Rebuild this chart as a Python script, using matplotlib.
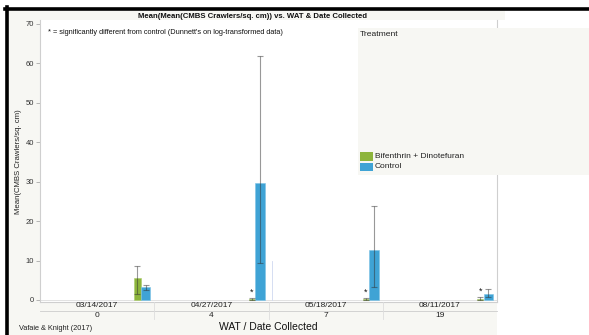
import matplotlib
matplotlib.use("Agg")
import matplotlib.pyplot as plt
from matplotlib.patches import Rectangle
from matplotlib.lines import Line2D

plt.rcParams['font.family'] = ['Liberation Sans', 'DejaVu Sans']

weeks = ['0', '4', '7', '19']
dates = ['03/14/2017', '04/27/2017', '05/18/2017', '08/11/2017']
treatments = ['Bifenthrin + Dinotefuran', 'Control']
bif_mean = [5.6, 0.3, 0.3, 0.3]
bif_lo = [1.5, 0.1, 0.1, 0.1]
bif_hi = [8.6, 0.5, 0.5, 0.8]
ctrl_mean = [3.2, 29.5, 12.7, 1.4]
ctrl_lo = [2.5, 9.4, 3.3, 0.7]
ctrl_hi = [3.9, 61.8, 23.8, 2.7]
significant = [False, True, True, True]
yticks = [0, 10, 20, 30, 40, 50, 60, 70]

GREEN = '#8db53c'
BLUE = '#3fa3d5'
BG = '#f7f7f3'

W, H = 589, 335
fig = plt.figure(figsize=(W / 100, H / 100), dpi=100)
fig.patch.set_facecolor('white')

def px(x, y):
    return x / W, 1 - y / H

# background frame
fig.patches.append(Rectangle(px(8, 335), (497 - 8) / W, (335 - 10) / H,
                             transform=fig.transFigure, facecolor=BG, edgecolor='none', zorder=-2))
fig.patches.append(Rectangle(px(497, 22), (505 - 497) / W, 12 / H,
                             transform=fig.transFigure, facecolor='white', edgecolor='none', zorder=-1.5))
fig.patches.append(Rectangle(px(497, 20), 8 / W, 10 / H,
                             transform=fig.transFigure, facecolor=BG, edgecolor='none', zorder=-1))
# black borders
fig.lines.append(Line2D([5 / W, 1], [1 - 8.5 / H] * 2, transform=fig.transFigure, color='black', lw=2.6, zorder=5))
fig.lines.append(Line2D([6.7 / W] * 2, [0, 1 - 7 / H], transform=fig.transFigure, color='black', lw=2.6, zorder=5))

# axes
L, R, T, B = 40, 497, 20, 301.5
ax = fig.add_axes([L / W, 1 - B / H, (R - L) / W, (B - T) / H])
ax.set_zorder(1)
ax.set_facecolor('white')
ax.set_xlim(0, 4)
ax.set_ylim(-0.38, 70.9)
ax.spines['top'].set_visible(False)
for s in ['left', 'right', 'bottom']:
    ax.spines[s].set_color('#cfcfcf')
    ax.spines[s].set_linewidth(0.8)
ax.set_xticks([])
ax.set_yticks(yticks)
ax.set_yticklabels([str(v) for v in yticks], fontsize=5.5, color='#333333')
ax.tick_params(axis='y', length=3, width=0.6, color='#aaaaaa', pad=1.5)
ax.axhline(0, color='#d6d6d6', lw=0.5, zorder=1)

gpos = 0.853
cpos = 0.925
gw = 0.055
cw = 0.082
for i in range(len(weeks)):
    xg = i + gpos
    xc = i + cpos
    ax.bar(xg, bif_mean[i], width=gw, color=GREEN, edgecolor='#a9cc6a', linewidth=0.4, zorder=2)
    ax.bar(xc, ctrl_mean[i], width=cw, color=BLUE, edgecolor='#7cc3e6', linewidth=0.4, zorder=2)
    ax.errorbar([xg], [bif_mean[i]],
                yerr=[[bif_mean[i] - bif_lo[i]], [bif_hi[i] - bif_mean[i]]],
                fmt='none', ecolor='#333333', alpha=0.5, elinewidth=0.8, capsize=2.5, capthick=0.8, zorder=3)
    ax.errorbar([xc], [ctrl_mean[i]],
                yerr=[[ctrl_mean[i] - ctrl_lo[i]], [ctrl_hi[i] - ctrl_mean[i]]],
                fmt='none', ecolor='#333333', alpha=0.5, elinewidth=0.8, capsize=2.5, capthick=0.8, zorder=3)
    if significant[i]:
        ax.text(xg, bif_hi[i] + 0.4, '*', ha='center', va='bottom', fontsize=6.5, color='#111111', zorder=4)

# faint vertical line near group 4 boundary
ax.plot([2.03, 2.03], [0, 10], color='#cfd8f0', lw=0.6, zorder=1)

# axis label area
fig.lines.append(Line2D([L / W, R / W], [1 - 310.5 / H] * 2, transform=fig.transFigure, color='#cccccc', lw=0.6))
gwpx = (R - L) / 4
for i in range(1, 4):
    xb = L + i * gwpx
    fig.lines.append(Line2D([xb / W] * 2, [1 - 302 / H, 1 - 319 / H], transform=fig.transFigure, color='#dddddd', lw=0.6))
for i in range(len(weeks)):
    xc = L + (i + 0.5) * gwpx
    fig.text(xc / W, 1 - 305.8 / H, dates[i], ha='center', va='center', fontsize=6, color='#222222')
    fig.text(xc / W, 1 - 315.5 / H, weeks[i], ha='center', va='center', fontsize=6, color='#222222')

fig.text(268.5 / W, 1 - 327 / H, 'WAT / Date Collected', ha='center', va='center', fontsize=7.5, color='#111111')
fig.text(19 / W, 1 - 329 / H, 'Vafaie & Knight (2017)', ha='left', va='center', fontsize=5.3, color='#222222')
fig.text(19 / W, 1 - 161.5 / H, 'Mean(CMBS Crawlers/sq. cm)', ha='center', va='center', rotation=90,
         fontsize=5.6, color='#222222')

# title
fig.text(252.5 / W, 1 - 17 / H, 'Mean(Mean(CMBS Crawlers/sq. cm)) vs. WAT & Date Collected',
         ha='center', va='center', fontsize=5.6, fontweight='bold', color='#111111')
fig.text(48 / W, 1 - 32 / H, "* = significantly different from control (Dunnett's on log-transformed data)",
         ha='left', va='center', fontsize=5.3, color='#111111')

# legend box
fig.patches.append(Rectangle(px(358, 175), (589 - 358) / W, (175 - 28.5) / H,
                             transform=fig.transFigure, facecolor=BG, edgecolor='none', zorder=6))
fig.text(360 / W, 1 - 35 / H, 'Treatment', ha='left', va='center', fontsize=6.1, color='#222222', zorder=7)
for j, (lab, col) in enumerate(zip(treatments, [GREEN, BLUE])):
    yc = 156.5 + j * 10.5
    fig.patches.append(Rectangle(px(360, yc + 4), 13 / W, 8.5 / H, transform=fig.transFigure,
                                 facecolor=col, edgecolor='none', zorder=7))
    fig.text(375 / W, 1 - yc / H, lab, ha='left', va='center', fontsize=6.0, color='#222222', zorder=7)

fig.savefig('out.png', dpi=100)
